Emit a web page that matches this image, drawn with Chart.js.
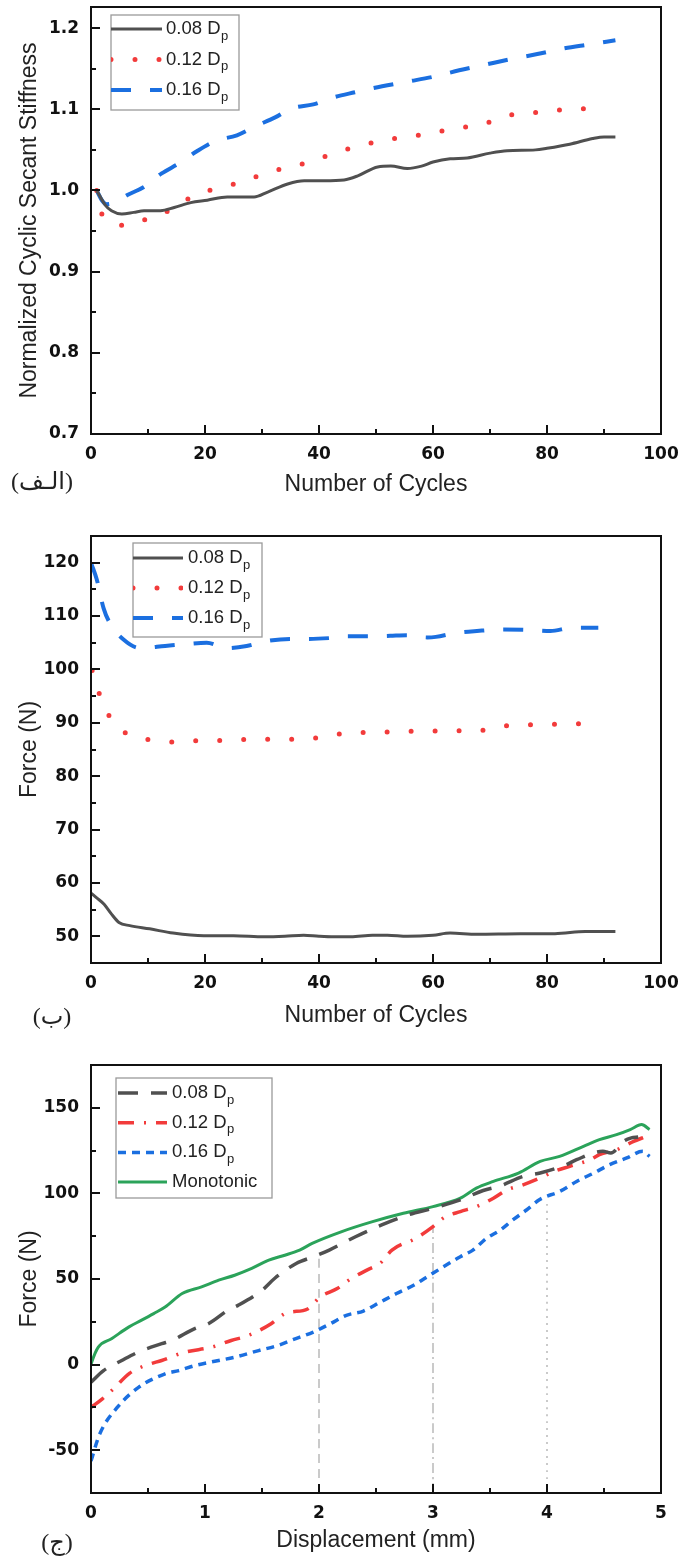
<!DOCTYPE html>
<html>
<head>
<meta charset="utf-8">
<script src="https://cdn.jsdelivr.net/npm/chart.js@4.4.1/dist/chart.umd.min.js"></script>
<style>
  body { margin: 0; background: #fff; }
  canvas { display: block; }
</style>
</head>
<body>
<canvas id="c1" width="679" height="520"></canvas>
<canvas id="c2" width="679" height="520"></canvas>
<canvas id="c3" width="679" height="520"></canvas>
<script>
// ---- data ----
const seriesLabels = ["0.08 D_p", "0.12 D_p", "0.16 D_p"];
const monoLabel = "Monotonic";

// (a) normalized cyclic secant stiffness vs cycles
const stiffX08 = [1, 2.5, 3.6, 5.4, 7.5, 9.3, 12.2, 14.6, 17.5, 20.4, 23.9, 28.6, 31, 34.5, 37.4, 40.9, 44.4, 46.8, 50.3, 52.6, 55.5, 58, 60, 63, 66, 70, 73, 78, 80, 84, 88, 90, 92];
const stiffY08 = [1.0, 0.982, 0.975, 0.971, 0.973, 0.975, 0.975, 0.979, 0.985, 0.988, 0.992, 0.992, 0.998, 1.008, 1.012, 1.012, 1.013, 1.018, 1.029, 1.030, 1.027, 1.030, 1.035, 1.039, 1.040, 1.046, 1.049, 1.050, 1.052, 1.057, 1.064, 1.066, 1.066];
const stiffX12 = [1, 2.05, 6.0, 10.2, 14.2, 17.9, 22.2, 26.3, 30.5, 34.7, 38.9, 43, 47.2, 51.4, 55.7, 60, 64.5, 68.6, 72.8, 77, 81.4, 85.5, 90.5];
const stiffY12 = [1.0, 0.969, 0.957, 0.966, 0.977, 0.993, 1.003, 1.010, 1.021, 1.029, 1.036, 1.047, 1.055, 1.062, 1.066, 1.071, 1.077, 1.081, 1.092, 1.095, 1.099, 1.100, 1.106];
const stiffX16 = [1, 1.9, 2.75, 4.5, 6.3, 9.2, 12.4, 15.6, 18.5, 21.8, 25.6, 28.8, 32.3, 35.2, 39, 42.2, 46.3, 49.5, 55.5, 60, 64.6, 69.2, 73.8, 78.3, 82.9, 87.5, 92];
const stiffY16 = [1.0, 0.988, 0.983, 0.986, 0.994, 1.004, 1.021, 1.034, 1.048, 1.061, 1.068, 1.079, 1.090, 1.101, 1.106, 1.114, 1.121, 1.126, 1.134, 1.140, 1.148, 1.155, 1.162, 1.168, 1.175, 1.180, 1.185];

// (b) force vs cycles
const forceX08 = [0, 1, 2.3, 3.5, 4.9, 6.8, 10.3, 14.4, 19.8, 25, 30.4, 34, 37.3, 40, 42.6, 45.6, 49.4, 52, 55.5, 60, 63, 67.7, 75.3, 81.4, 86.7, 92];
const forceY08 = [58.1, 57.2, 56.0, 54.3, 52.6, 52.0, 51.4, 50.6, 50.1, 50.1, 49.9, 50.0, 50.2, 50.0, 49.9, 49.9, 50.2, 50.2, 50.0, 50.2, 50.6, 50.4, 50.5, 50.5, 50.9, 50.9];
const forceX12 = [0.2, 1.5, 3.2, 6.5, 10.6, 15, 19.4, 23.8, 28.1, 32.5, 36.9, 41, 45.5, 49.8, 54.2, 58.6, 62.9, 67.3, 71.5, 75.9, 80.2, 84.6, 89];
const forceY12 = [99.8, 95.3, 91.3, 87.8, 86.8, 86.4, 86.7, 86.7, 86.9, 86.9, 87.0, 87.3, 88.2, 88.2, 88.4, 88.4, 88.6, 88.4, 89.3, 89.6, 89.7, 89.8, 89.9];
const forceX16 = [0.1, 1.0, 2.2, 3.3, 5.7, 8.6, 13, 16.2, 20.3, 23.8, 27.3, 30.8, 34.9, 37.8, 42.2, 45.1, 49.5, 52.5, 55.5, 59, 60.5, 63.9, 67.7, 72.2, 76.8, 80.6, 84.4, 89];
const forceY16 = [119.7, 116.9, 111.5, 108.7, 105.6, 104.0, 104.4, 104.7, 105.0, 104.0, 104.4, 105.3, 105.7, 105.7, 105.9, 106.2, 106.2, 106.3, 106.4, 106.0, 106.1, 106.8, 107.2, 107.5, 107.4, 107.2, 107.8, 107.8];

// (c) force vs displacement
const dispX08 = [0, 0.11, 0.27, 0.41, 0.62, 0.71, 0.91, 1.03, 1.2, 1.29, 1.5, 1.61, 1.8, 1.95, 2.09, 2.32, 2.55, 2.78, 3.0, 3.24, 3.44, 3.59, 3.79, 3.94, 4.17, 4.26, 4.49, 4.56, 4.67, 4.74, 4.8];
const dispF08 = [-10.3, -3.5, 2.4, 7.2, 12.2, 14.1, 21.0, 23.9, 31.7, 34.6, 43.4, 50.3, 59.1, 63.0, 66.9, 74.7, 81.6, 87.4, 91.3, 96.2, 101.7, 104.4, 109.9, 111.9, 116.8, 119.7, 124.6, 123.6, 130.4, 132.4, 133];
const dispX12 = [0, 0.1, 0.2, 0.34, 0.5, 0.62, 0.82, 1.06, 1.23, 1.38, 1.58, 1.70, 1.75, 1.9, 2.01, 2.16, 2.27, 2.42, 2.54, 2.64, 2.85, 3.0, 3.1, 3.24, 3.38, 3.53, 3.65, 3.79, 3.97, 4.06, 4.2, 4.38, 4.46, 4.61, 4.76, 4.87];
const dispF12 = [-25, -20, -14, -5, 0, 2.4, 7.2, 10.2, 14.1, 17.0, 23.9, 29.8, 30.7, 32.5, 39.5, 44.4, 49.7, 55.2, 59.4, 66.9, 73.8, 80.6, 86, 89.4, 92.3, 97.2, 102.1, 105.0, 109.9, 112.8, 115.8, 119.7, 122.6, 125.5, 130.4, 133.3];
const dispX16 = [0, 0.076, 0.23, 0.42, 0.65, 0.77, 0.91, 1.12, 1.26, 1.47, 1.64, 1.77, 1.95, 2.10, 2.24, 2.39, 2.54, 2.68, 2.83, 2.94, 3.09, 3.24, 3.35, 3.47, 3.59, 3.70, 3.82, 3.94, 4.11, 4.26, 4.41, 4.55, 4.70, 4.84, 4.9];
const dispF16 = [-56.3, -40.6, -25, -13.2, -5.4, -3.5, -0.6, 2.4, 4.3, 8.2, 11.2, 14.5, 19.0, 23.9, 28.8, 31.3, 36.6, 41.5, 46.4, 50.9, 57.1, 63.0, 66.9, 73.8, 78.6, 84.5, 90.3, 96.6, 101.1, 107.0, 111.9, 116.8, 120.7, 124.6, 121.6];
const dispXMono = [0, 0.006, 0.064, 0.18, 0.33, 0.44, 0.55, 0.65, 0.8, 0.97, 1.12, 1.26, 1.41, 1.56, 1.70, 1.83, 1.94, 2.2, 2.47, 2.74, 3.0, 3.24, 3.38, 3.53, 3.75, 3.94, 4.11, 4.32, 4.46, 4.61, 4.73, 4.83, 4.9];
const dispFMono = [0, 1.4, 10.2, 15.1, 21.9, 25.8, 29.8, 33.6, 41.5, 45.4, 49.3, 52.2, 56.2, 61.0, 63.9, 66.9, 70.8, 77.7, 83.5, 88.4, 92.3, 97.2, 103.1, 107.0, 111.9, 118.7, 121.6, 127.5, 131.4, 134.3, 137.3, 140.2, 137.3];
// grey guide lines at 2, 3, 4 mm, running up to the curve they mark
const refX = [2, 3, 4];
const refTop = [64, 81, 96];

// tick labels
const cycleTicks = [0, 20, 40, 60, 80, 100];
const stiffTicks = [0.7, 0.8, 0.9, 1.0, 1.1, 1.2];
const forceTicks = [50, 60, 70, 80, 90, 100, 110, 120];
const dispTicks = [0, 1, 2, 3, 4, 5];
const dispForceTicks = [-50, 0, 50, 100, 150];

// ---- styles ----
const BLACK = "#505050", RED = "#f23b3b", BLUE = "#1b6fe0", GREEN = "#2ba35a", REF = "#bdbdbd";
const tickFont = { family: "DejaVu Sans", size: 17, weight: "bold" };
const titleFont = { family: "Liberation Sans", size: 23 };

const pts = (xs, ys) => xs.map((x, i) => ({ x: x, y: ys[i] }));

function line(label, data, color, width, dash, cap) {
  return {
    label: label, data: data, borderColor: color, borderWidth: width,
    borderDash: dash, borderCapStyle: cap || "butt", borderJoinStyle: "round",
    pointRadius: 0, fill: false, cubicInterpolationMode: "monotone"
  };
}

// frame + inward major/minor ticks
const frameTicks = {
  id: "frameTicks",
  afterDraw(chart) {
    const { ctx, chartArea: a } = chart;
    ctx.save();
    ctx.strokeStyle = "#111";
    ctx.lineWidth = 2;
    ctx.strokeRect(a.left, a.top, a.right - a.left, a.bottom - a.top);
    const marks = (sc, len, vals) => vals.forEach(v => {
      const p = Math.round(sc.getPixelForValue(v));
      ctx.beginPath();
      if (sc.isHorizontal()) { ctx.moveTo(p, a.bottom); ctx.lineTo(p, a.bottom - len); }
      else { ctx.moveTo(a.left, p); ctx.lineTo(a.left + len, p); }
      ctx.stroke();
    });
    [chart.scales.x, chart.scales.y].forEach(sc => {
      const major = sc.ticks.map(t => t.value);
      const step = major[1] - major[0];
      const minor = [];
      for (let v = major[0] - step / 2; v < sc.max; v += step) {
        if (v > sc.min + step * 0.01 && v < sc.max - step * 0.01) minor.push(v);
      }
      marks(sc, 9, major);
      marks(sc, 5, minor);
    });
    ctx.restore();
  }
};

// boxed legend with subscript text
const boxLegend = {
  id: "boxLegend",
  afterDraw(chart, args, o) {
    const ctx = chart.ctx;
    ctx.save();
    ctx.fillStyle = "#fff";
    ctx.fillRect(o.x, o.y, o.w, o.h);
    ctx.strokeStyle = "#9a9a9a";
    ctx.lineWidth = 1.3;
    ctx.strokeRect(o.x, o.y, o.w, o.h);
    o.labels.forEach((lab, i) => {
      const ds = chart.data.datasets[i];
      const cy = o.y + o.first + i * o.row;
      ctx.save();
      ctx.beginPath();
      ctx.rect(o.x, o.y, o.sx + o.sample, o.h);
      ctx.clip();
      ctx.strokeStyle = ds.borderColor;
      ctx.lineWidth = ds.borderWidth;
      ctx.setLineDash(ds.borderDash || []);
      ctx.lineCap = ds.borderCapStyle;
      ctx.beginPath();
      ctx.moveTo(o.x + o.sx, cy);
      ctx.lineTo(o.x + o.sx + o.sample + 10, cy);
      ctx.stroke();
      ctx.restore();
      const parts = lab.split("_");
      const tx = o.x + o.tx;
      ctx.fillStyle = "#222";
      ctx.textAlign = "left";
      ctx.textBaseline = "middle";
      ctx.font = '18.5px "Liberation Sans"';
      ctx.fillText(parts[0], tx, cy);
      if (parts[1]) {
        const w = ctx.measureText(parts[0]).width;
        ctx.font = '13px "Liberation Sans"';
        ctx.fillText(parts[1], tx + w + 0.5, cy + 7);
      }
    });
    ctx.restore();
  }
};

// panel letter under the y axis
const panelTag = {
  id: "panelTag",
  afterDraw(chart, args, o) {
    const ctx = chart.ctx;
    ctx.save();
    ctx.fillStyle = "#222";
    ctx.font = '24px "Liberation Serif", "DejaVu Sans"';
    ctx.textAlign = "center";
    ctx.textBaseline = "middle";
    ctx.fillText(o.text, o.x, o.y);
    ctx.restore();
  }
};

function axis(min, max, ticks, title, fmt, fitSize, isY, titlePad) {
  return {
    type: "linear", min: min, max: max,
    grid: { display: false, drawTicks: false },
    border: { display: false },
    afterBuildTicks: s => { s.ticks = ticks.map(v => ({ value: v })); },
    afterFit: s => {
      if (isY) s.width = fitSize; else s.height = fitSize;
      s.paddingTop = 0; s.paddingBottom = 0; s.paddingLeft = 0; s.paddingRight = 0;
    },
    ticks: { font: tickFont, color: "#111", padding: isY ? 12 : 10, maxRotation: 0, autoSkip: false, callback: fmt },
    title: { display: true, text: title, font: titleFont, color: "#222",
             padding: isY ? { top: titlePad, bottom: 0 } : { top: 0, bottom: titlePad } }
  };
}

function makeChart(id, datasets, xAxis, yAxis, padTop, legend, tag) {
  return new Chart(document.getElementById(id), {
    type: "line",
    data: { datasets: datasets },
    options: {
      responsive: false,
      animation: false,
      layout: { padding: { top: padTop, right: 18, bottom: 0, left: 0 } },
      scales: { x: xAxis, y: yAxis },
      plugins: {
        legend: { display: false },
        tooltip: { enabled: false },
        boxLegend: legend,
        panelTag: tag
      }
    },
    plugins: [frameTicks, boxLegend, panelTag]
  });
}

const str = v => String(v);

// (a)
makeChart("c1", [
    line(seriesLabels[0], pts(stiffX08, stiffY08), BLACK, 3, []),
    line(seriesLabels[1], pts(stiffX12, stiffY12), RED, 5, [0, 24], "round"),
    line(seriesLabels[2], pts(stiffX16, stiffY16), BLUE, 4, [20, 19])
  ],
  axis(0, 100, cycleTicks, "Number of Cycles", str, 86, false, 22),
  axis(0.7, 1.226, stiffTicks, "Normalized Cyclic Secant Stiffness", v => v.toFixed(1), 91, true, 16),
  7,
  { x: 111, y: 15, w: 128, h: 95, first: 14, row: 30.5, sx: 0, sample: 51, tx: 55, labels: seriesLabels },
  { text: "(الـف)", x: 42, y: 483 }
);

// (b)
makeChart("c2", [
    line(seriesLabels[0], pts(forceX08, forceY08), BLACK, 3, []),
    line(seriesLabels[1], pts(forceX12, forceY12), RED, 5, [0, 24], "round"),
    line(seriesLabels[2], pts(forceX16, forceY16), BLUE, 4, [20, 19])
  ],
  axis(0, 100, cycleTicks, "Number of Cycles", str, 77, false, 11),
  axis(45, 125, forceTicks, "Force (N)", str, 91, true, 16),
  16,
  { x: 133, y: 23, w: 129, h: 94, first: 15, row: 30, sx: 0, sample: 50, tx: 55, labels: seriesLabels },
  { text: "(ب)", x: 52, y: 498 }
);

// (c)
const refSets = refX.map((x, i) => line("ref" + i, pts([x, x], [-75, refTop[i]]), REF, 1.6,
  [[9, 6], [10, 4, 2, 4], [2, 5]][i]));
makeChart("c3", [
    line(seriesLabels[0], pts(dispX08, dispF08), BLACK, 3.5, [20, 13]),
    line(seriesLabels[1], pts(dispX12, dispF12), RED, 3.5, [16, 10, 2, 10]),
    line(seriesLabels[2], pts(dispX16, dispF16), BLUE, 3.5, [8, 6]),
    line(monoLabel, pts(dispXMono, dispFMono), GREEN, 3, [])
  ].concat(refSets),
  axis(0, 5, dispTicks, "Displacement (mm)", str, 67, false, 6),
  axis(-75, 175, dispForceTicks, "Force (N)", str, 91, true, 16),
  25,
  { x: 116, y: 38, w: 156, h: 120, first: 15, row: 29.7, sx: 2, sample: 49, tx: 56, labels: seriesLabels.concat([monoLabel]) },
  { text: "(ج)", x: 57, y: 504 }
);
</script>
</body>
</html>
